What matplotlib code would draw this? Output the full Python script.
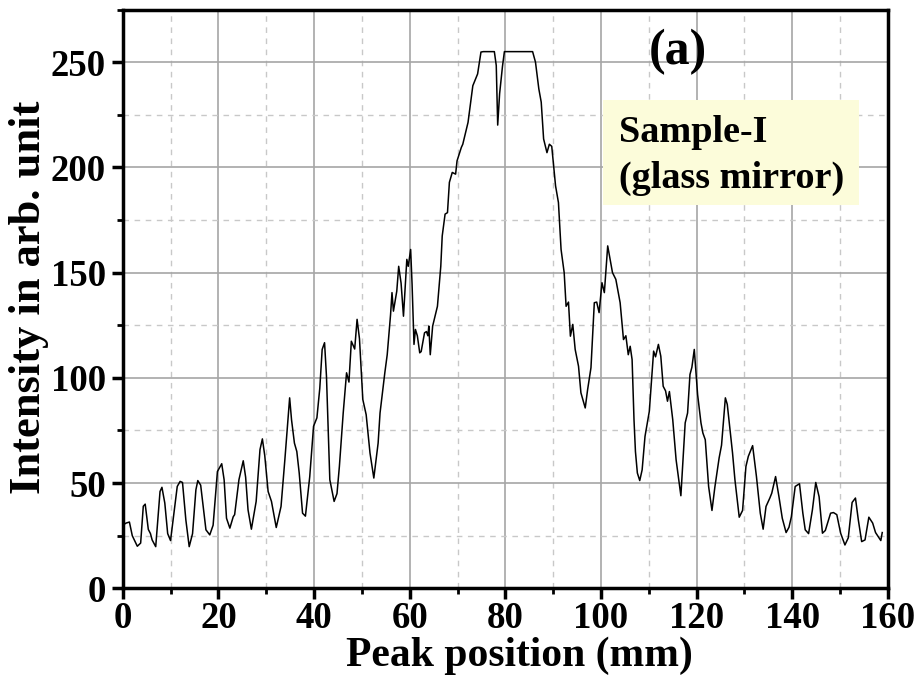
import matplotlib
matplotlib.use("Agg")
import matplotlib.pyplot as plt
from matplotlib.ticker import MultipleLocator
from matplotlib.patches import Rectangle

# peak profile (mm, arb. unit)
pos = [0, 0.7, 1.4, 2.0, 3.05, 3.75, 4.3, 4.7, 5.35, 5.8,
       6.15, 6.9, 7.8, 8.2, 8.8, 9.4, 10.0, 11.4, 12.0, 12.5,
       13.2, 13.9, 14.6, 15.3, 15.7, 16.3, 17.4, 18.2, 18.9, 19.8,
       20.7, 21.2, 21.7, 22.4, 23.1, 23.4, 24.3, 25.2, 25.7, 26.2,
       26.9, 27.9, 28.7, 29.2, 29.7, 30.4, 31.1, 32.1, 33.1, 33.9,
       34.9, 35.3, 35.9, 36.4, 36.9, 37.6, 38.2, 39.1, 39.9, 40.6,
       41.2, 41.7, 42.2, 42.6, 43.3, 44.2, 44.8, 45.3, 46.1, 46.8,
       47.3, 47.8, 48.5, 49.0, 49.5, 50.2, 50.9, 51.7, 52.5, 53.4,
       53.8, 54.8, 55.3, 56.0, 56.3, 56.6, 57.3, 57.7, 58.2, 58.7,
       59.4, 59.7, 60.2, 60.5, 60.9, 61.2, 61.6, 62.1, 62.4, 63.1,
       63.5, 63.8, 64.0, 64.3, 64.8, 65.8, 66.5, 66.8, 67.4, 67.9,
       68.3, 68.9, 69.6, 69.9, 70.8, 71.1, 71.7, 72.2, 73.2, 74.2,
       74.9, 75.4, 77.7, 78.1, 78.4, 78.8, 79.4, 79.8, 85.7, 86.3,
       87.0, 87.5, 88.0, 88.7, 89.2, 89.7, 90.1, 90.5, 91.1, 91.65,
       92.3, 92.7, 93.2, 93.6, 94.1, 94.6, 95.3, 95.8, 96.7, 97.2,
       97.9, 98.6, 99.1, 99.6, 100.2, 100.7, 101.4, 101.9, 102.4, 103.1,
       104.0, 104.7, 105.2, 105.7, 106.1, 106.5, 106.9, 107.2, 107.6, 108.1,
       108.6, 109.2, 110.1, 111.0, 111.4, 112.0, 112.5, 113.0, 113.5, 113.9,
       114.3, 115.0, 115.7, 116.7, 117.6, 118.1, 118.6, 119.0, 119.5, 120.2,
       120.9, 121.3, 121.8, 122.5, 123.2, 123.8, 124.7, 125.2, 126.0, 126.4,
       127.5, 128.0, 128.9, 129.6, 130.3, 130.8, 131.7, 132.5, 133.3, 133.9,
       134.5, 135.3, 135.7, 136.5, 137.2, 137.9, 138.7, 139.3, 139.8, 140.6,
       141.5, 142.2, 142.7, 143.4, 144.2, 144.9, 145.6, 146.3, 146.9, 148.0,
       148.6, 149.3, 150.1, 151.0, 151.7, 152.5, 153.2, 153.8, 154.5, 155.2,
       156.0, 156.8, 157.4, 158.5, 158.8]

intensity = [30, 31, 31.5, 25, 20, 21.5, 39, 40, 28, 26,
             23, 19.8, 46, 48, 40.5, 26, 22.7, 48.4, 50.8, 50.3,
             32.5, 19.8, 26, 46.8, 51.2, 49, 27.8, 25.4, 30, 55.5,
             59.2, 51.6, 33.3, 28.6, 34, 35, 51.6, 60.6, 52.8, 37.3,
             28.1, 41.3, 65.9, 71, 63, 46, 41.3, 28.9, 38.9, 61.1,
             90.5, 80, 69, 65, 54.8, 35.7, 34.3, 53, 77, 81,
             95, 113.5, 116.7, 100.8, 51.6, 41.3, 45, 57.9, 83.3, 102.4,
             98, 117.4, 113.7, 127.8, 118.6, 89.7, 82.5, 64.3, 52.4, 69,
             83.3, 102.4, 111, 130, 140.5, 131.7, 141.2, 153, 145, 129.3,
             156.3, 153, 161, 144.4, 115.9, 123, 120, 111.9, 112.5, 121.4,
             122, 120, 124.6, 111, 124.6, 134, 153, 167.4, 177.8, 178.5,
             192.9, 197.6, 196.8, 203.1, 209.5, 211, 216.7, 221.4, 238.8, 244.4,
             254.8, 255, 255, 248.4, 220.1, 235, 248, 255, 255, 250,
             237.3, 231, 213.5, 207, 211, 210, 200.8, 191.2, 183.3, 161,
             150, 134, 136, 119.8, 125.4, 113.5, 105.5, 92.9, 85.7, 94.4,
             104.8, 135.7, 136, 131, 145.2, 140.5, 162.7, 156.3, 150, 146.8,
             135.7, 118.2, 120, 111, 115, 108.7, 80, 65, 54.8, 51.2,
             56.3, 72.2, 84.1, 112.7, 110, 115.9, 110.3, 96, 93.8, 88.9,
             93.5, 80.1, 61.1, 44, 78.6, 83.3, 101.6, 105, 113.5, 92,
             78.6, 73.8, 70.6, 48.4, 37, 48, 62, 68, 90.5, 87.4,
             64.3, 51.6, 33.8, 37, 57.9, 62.7, 67.8, 53.1, 35.7, 28.1,
             38.9, 42.9, 45.2, 53.1, 43.6, 33.3, 26.5, 29, 34, 48.4,
             49.7, 35.7, 27.8, 26, 37.3, 50.3, 43.5, 26.2, 27.5, 35.7,
             36, 35, 26.2, 20.6, 24, 40.8, 42.9, 32.5, 22.2, 23,
             33.8, 31, 26.5, 22.7, 26.5]

assert len(pos) == len(intensity)

plt.rcParams['font.family'] = ['Liberation Serif', 'DejaVu Serif']
plt.rcParams['font.weight'] = 'bold'

fig = plt.figure(figsize=(9.22, 6.96), dpi=100)
ax = fig.add_axes([0.1331, 0.1547, 0.830, 0.8316])

ax.plot(pos, intensity, color='black', lw=1.1, zorder=3)

ax.set_xlim(0, 160)
ax.set_ylim(0, 275)
ax.xaxis.set_major_locator(MultipleLocator(20))
ax.xaxis.set_minor_locator(MultipleLocator(10))
ax.yaxis.set_major_locator(MultipleLocator(50))
ax.yaxis.set_minor_locator(MultipleLocator(25))

ax.grid(which='major', color='#a6a6a6', lw=1.2, ls='-', zorder=0)
ax.grid(which='minor', color='#c8c8c8', lw=1.0, ls=(0, (4, 4)), zorder=0)
ax.set_axisbelow(True)

for s in ax.spines.values():
    s.set_linewidth(2.5)

ax.tick_params(which='major', direction='out', length=8, width=2.5,
               labelsize=26.5)
ax.tick_params(axis='x', which='major', pad=1)
ax.tick_params(axis='y', which='major', pad=4)
ax.tick_params(which='minor', direction='out', length=4, width=2.0)
ax.tick_params(top=False, right=False)

ax.set_xlabel('Peak position (mm)', fontsize=30, fontweight='bold', va='center')
ax.set_ylabel('Intensity in arb. unit', fontsize=32, fontweight='bold', va='center')
ax.xaxis.set_label_coords(0.518, -0.116)
ax.yaxis.set_label_coords(-0.1224, 0.503)

ax.text(0.7256, 0.9058, '(a)', transform=ax.transAxes, fontsize=36,
        fontweight='bold', ha='center', va='baseline')

ax.add_patch(Rectangle((0.6276, 0.6622), 0.3345, 0.1815, transform=ax.transAxes,
                       facecolor='#fcfcda', edgecolor='none', zorder=2))
ax.text(0.6485, 0.7716, 'Sample-I', transform=ax.transAxes, fontsize=27.5,
        fontweight='bold', va='baseline', zorder=4)
ax.text(0.6485, 0.6916, '(glass mirror)', transform=ax.transAxes, fontsize=27.5,
        fontweight='bold', va='baseline', zorder=4)

fig.savefig('out.png', dpi=100)
